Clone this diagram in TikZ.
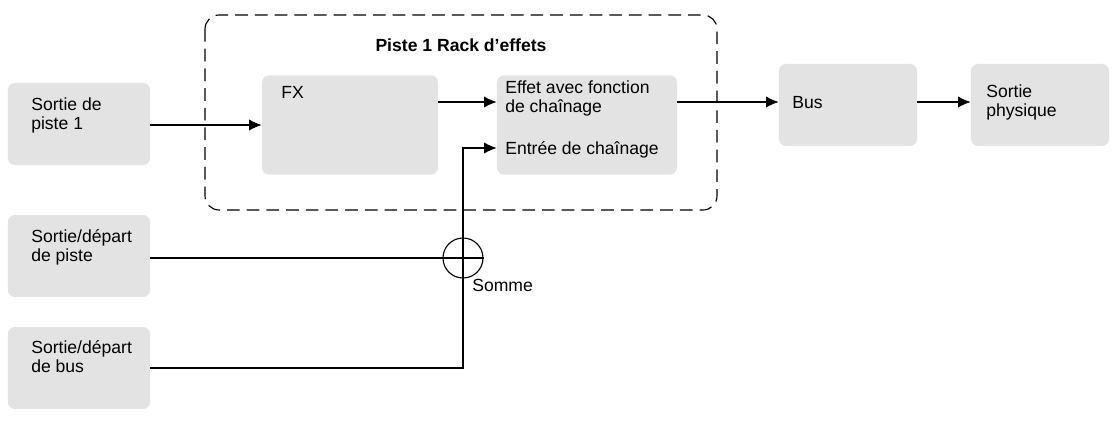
\documentclass[tikz,border=0pt]{standalone}
\usepackage{fontspec}
\setmainfont{Liberation Sans}
\usetikzlibrary{positioning,arrows.meta}
\begin{document}
\begin{tikzpicture}[x=0.025cm, y=-0.025cm,
  blk/.style={fill=black!11, draw=none, rounded corners=5pt, inner sep=0pt},
  lbl/.style={font=\fontsize{12.5}{14}\selectfont, align=left, anchor=north west, inner sep=0pt},
  sig/.style={-{Latex[length=9pt,width=8pt]}, thick}]

  \useasboundingbox (0,0) rectangle (1117,434);

  \draw[thick, dash pattern=on 9pt off 5pt, rounded corners=10pt] (205,15) rectangle (717,210);
  \node[font=\fontsize{12.5}{14}\selectfont\bfseries] (titre) at (461,45) {Piste 1 Rack d’effets};

  % blocs
  \node[blk, minimum width=3.55cm, minimum height=2.05cm] (src) at (79,124) {};
  \node[blk, minimum width=4.4cm, minimum height=2.48cm] (fx) at (350,125) {};
  \node[blk, minimum width=4.5cm, minimum height=2.48cm] (eff) at (587,125) {};
  \node[blk, minimum width=3.45cm, minimum height=2.05cm] (bus) at (848,105) {};
  \node[blk, minimum width=3.45cm, minimum height=2.05cm] (phys) at (1040,105) {};
  \node[blk, minimum width=3.55cm, minimum height=2.05cm] (dpiste) at (79,256) {};
  \node[blk, minimum width=3.55cm, minimum height=2.05cm] (dbus) at (79,368) {};

  \node[lbl] at (31,97) {Sortie de\\piste 1};
  \node[lbl] at (281,86) {FX};
  \node[lbl] at (505,80) {Effet avec fonction\\de chaînage};
  \node[lbl] (entree) at (505,141) {Entrée de chaînage};
  \node[lbl] at (792,96) {Bus};
  \node[lbl] at (986,84) {Sortie\\physique};
  \node[lbl] at (31,229) {Sortie/départ\\de piste};
  \node[lbl] at (31,340) {Sortie/départ\\de bus};

  % somme
  \node[draw, thick, circle, minimum size=1cm, inner sep=0pt] (somme) at (463,258) {};
  \draw[thick] (somme.north) -- (somme.south) (somme.west) -- (somme.east);
  \node[lbl] at (472,279) {Somme};

  % connexions
  \coordinate (c1) at (463,148);
  \draw[sig] (src.east |- 0,125) -- (fx.west |- 0,125);
  \draw[sig] (fx.east |- 0,102) -- (eff.west |- 0,102);
  \draw[sig] (eff.east |- 0,102) -- (bus.west |- 0,102);
  \draw[sig] (bus.east |- 0,102) -- (phys.west |- 0,102);
  \draw[thick] (dpiste.east |- somme) -- (somme.west);
  \draw[thick] (dbus.east |- 0,368) -| (somme.south);
  \draw[sig] (somme.north) -- (c1) -- (eff.west |- c1);
\end{tikzpicture}
\end{document}
